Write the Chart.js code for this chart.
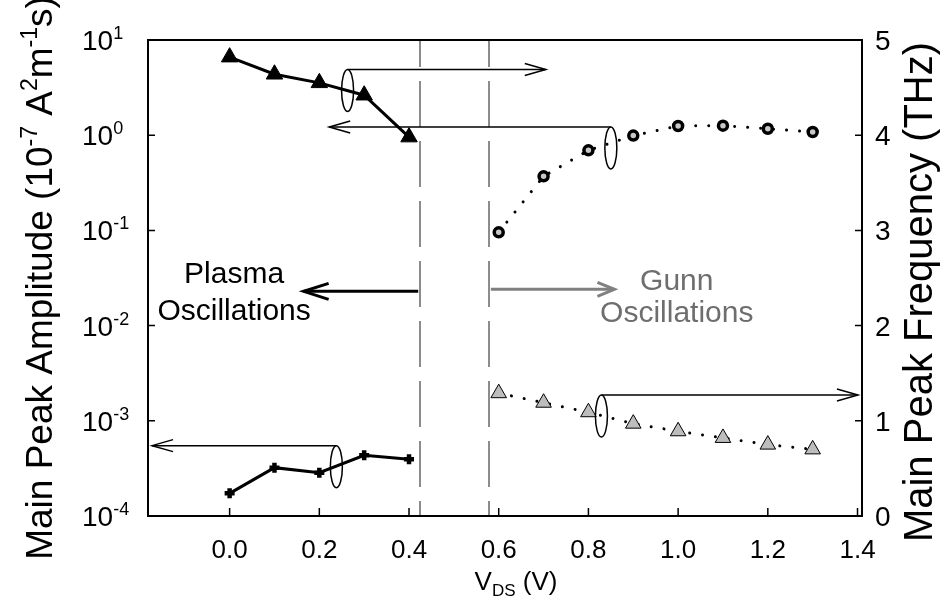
<!DOCTYPE html>
<html><head><meta charset="utf-8">
<script src="https://cdn.jsdelivr.net/npm/chart.js@4/dist/chart.umd.min.js"></script>
<style>html,body{margin:0;padding:0;background:#fff}#wrap{width:944px;height:607px}</style>
</head><body><div id="wrap"><canvas id="c" width="944" height="607"></canvas></div>
<script>
// ---- data ----
const vdsPlasma = [0.0, 0.1, 0.2, 0.3, 0.4];
const vdsGunn = [0.6, 0.7, 0.8, 0.9, 1.0, 1.1, 1.2, 1.3];
const plasmaFreq = [4.82, 4.64, 4.55, 4.42, 3.98];          // THz (right axis)
const plasmaAmp = [1.73e-4, 3.22e-4, 2.85e-4, 4.34e-4, 3.94e-4]; // left axis
const gunnAmp = [0.0955, 0.370, 0.693, 0.99, 1.25, 1.26, 1.17, 1.08]; // left axis
const gunnFreq = [1.29, 1.19, 1.09, 0.97, 0.89, 0.82, 0.75, 0.70]; // THz (right axis)
const xTicks = [0.0, 0.2, 0.4, 0.6, 0.8, 1.0, 1.2, 1.4];
const xTickLabels = ['0.0', '0.2', '0.4', '0.6', '0.8', '1.0', '1.2', '1.4'];
const leftTickExps = [1, 0, -1, -2, -3, -4];
const rightTicks = [0, 1, 2, 3, 4, 5];
const regionBounds = [0.425, 0.578];
const regionLabels = [['Plasma', 'Oscillations'], ['Gunn', 'Oscillations']];
const FONT = '"Liberation Sans", Arial, sans-serif';

const pts = (xs, ys) => xs.map((x, i) => ({x, y: ys[i]}));

// annotation anchors in data space (ellipse centre, arrow end)
const brackets = [
  {x: 0.263, y: 4.47, axis: 'yR', toX: 0.705, dir: 1},
  {x: 0.850, y: 0.735, axis: 'yL', toX: 0.222, dir: -1},
  {x: 0.238, y: 3.3e-4, axis: 'yL', toX: -0.173, dir: -1},
  {x: 0.829, y: 1.05, axis: 'yR', toX: 1.401, dir: 1}
];

function arrowHead(ctx, x, y, dir, len, half) {
  ctx.beginPath();
  ctx.moveTo(x - dir * len, y - half);
  ctx.lineTo(x, y);
  ctx.lineTo(x - dir * len, y + half);
  ctx.stroke();
}

function drawRich(ctx, parts, x, y, align) {
  let total = 0;
  parts.forEach(p => { ctx.font = p[1] + 'px ' + FONT; total += ctx.measureText(p[0]).width; });
  let cx = align === 'center' ? x - total / 2 : (align === 'right' ? x - total : x);
  parts.forEach(p => {
    ctx.font = p[1] + 'px ' + FONT;
    ctx.fillText(p[0], cx, y + (p[2] || 0));
    cx += ctx.measureText(p[0]).width;
  });
}

const decor = {
  id: 'decor',
  beforeDatasetsDraw(chart) {
    const {ctx, chartArea: a, scales} = chart;
    ctx.save();
    ctx.strokeStyle = '#8c8c8c';
    ctx.lineWidth = 2;
    ctx.setLineDash([46, 14]);
    ctx.lineDashOffset = 19;
    regionBounds.forEach(v => {
      const px = Math.round(scales.x.getPixelForValue(v));
      ctx.beginPath(); ctx.moveTo(px, a.top); ctx.lineTo(px, a.bottom); ctx.stroke();
    });
    ctx.restore();
  },
  afterDatasetsDraw(chart) {
    const {ctx, chartArea: a, scales} = chart;
    const sx = scales.x, yL = scales.yL, yR = scales.yR;
    ctx.save();
    ctx.strokeStyle = '#000'; ctx.lineWidth = 2; ctx.setLineDash([]);
    ctx.strokeRect(a.left, a.top, a.right - a.left, a.bottom - a.top);
    ctx.lineWidth = 1.5;
    ctx.beginPath();
    xTicks.forEach(v => { const p = sx.getPixelForValue(v); ctx.moveTo(p, a.bottom); ctx.lineTo(p, a.bottom - 8); });
    leftTickExps.forEach(e => { const p = yL.getPixelForValue(Math.pow(10, e)); ctx.moveTo(a.left, p); ctx.lineTo(a.left + 7, p); });
    rightTicks.forEach(v => { const p = yR.getPixelForValue(v); ctx.moveTo(a.right, p); ctx.lineTo(a.right - 7, p); });
    ctx.stroke();
    ctx.fillStyle = '#000';
    ctx.textBaseline = 'alphabetic';
    xTicks.forEach((v, i) => {
      ctx.font = '26px ' + FONT;
      ctx.textAlign = 'center';
      ctx.fillText(xTickLabels[i], sx.getPixelForValue(v), 558);
    });
    ctx.textAlign = 'left';
    leftTickExps.forEach(e => {
      const p = yL.getPixelForValue(Math.pow(10, e));
      drawRich(ctx, [['10', 28, 0], [String(e), 18, -11]], 82, p + 10, 'left');
    });
    rightTicks.forEach(v => {
      const p = yR.getPixelForValue(v);
      ctx.font = '28px ' + FONT;
      ctx.fillText(String(v), 875, p + 10);
    });
    drawRich(ctx, [['V', 26, 0], ['DS', 17, 6], [' (V)', 26, 0]], 516, 590, 'center');
    ctx.save();
    ctx.translate(52, 278); ctx.rotate(-Math.PI / 2);
    drawRich(ctx, [['Main Peak Amplitude (10', 37, 0], ['-7', 23, -15], [' A', 37, 0], ['2', 23, -15],
                   ['m', 37, 0], ['-1', 23, -15], ['s)', 37, 0]], 0, 0, 'center');
    ctx.restore();
    ctx.save();
    ctx.translate(932, 292); ctx.rotate(-Math.PI / 2);
    ctx.font = '40px ' + FONT; ctx.textAlign = 'center';
    ctx.fillText('Main Peak Frequency (THz)', 0, 0);
    ctx.restore();

    ctx.strokeStyle = '#000';
    brackets.forEach(b => {
      const cx = sx.getPixelForValue(b.x);
      const cy = scales[b.axis].getPixelForValue(b.y);
      ctx.lineWidth = 1.5;
      ctx.beginPath(); ctx.ellipse(cx, cy, 6, 21, 0, 0, Math.PI * 2); ctx.stroke();
      const top = cy - 21;
      const tx = sx.getPixelForValue(b.toX);
      ctx.beginPath(); ctx.moveTo(cx, top); ctx.lineTo(tx, top); ctx.stroke();
      arrowHead(ctx, tx, top, b.dir, 21, 6);
    });

    const yA = yR.getPixelForValue(2.36);
    const b0 = sx.getPixelForValue(regionBounds[0]);
    const b1 = sx.getPixelForValue(regionBounds[1]);
    ctx.lineWidth = 3; ctx.strokeStyle = '#000';
    const t0 = sx.getPixelForValue(0.165);
    ctx.beginPath(); ctx.moveTo(b0 - 2, yA); ctx.lineTo(t0, yA); ctx.stroke();
    arrowHead(ctx, t0, yA, -1, 25, 8);
    ctx.strokeStyle = '#808080';
    const t1 = sx.getPixelForValue(0.858);
    ctx.beginPath(); ctx.moveTo(b1 + 2, yA - 2); ctx.lineTo(t1, yA - 2); ctx.stroke();
    arrowHead(ctx, t1, yA - 2, 1, 17, 7);

    ctx.font = '30px ' + FONT; ctx.textAlign = 'center';
    ctx.fillStyle = '#000';
    const pcx = sx.getPixelForValue(0.01);
    ctx.fillText(regionLabels[0][0], pcx, 283);
    ctx.fillText(regionLabels[0][1], pcx, 320);
    ctx.fillStyle = '#6e6e6e';
    const gcx = sx.getPixelForValue(0.997);
    ctx.fillText(regionLabels[1][0], gcx, 290);
    ctx.fillText(regionLabels[1][1], gcx, 322);
    ctx.restore();
  }
};

new Chart(document.getElementById('c'), {
  type: 'line',
  data: {
    datasets: [
      {label: 'Plasma frequency', data: pts(vdsPlasma, plasmaFreq), yAxisID: 'yR',
       borderColor: '#000', borderWidth: 3, pointStyle: 'triangle', pointRadius: 9.5,
       pointBackgroundColor: '#000', pointBorderColor: '#000', pointBorderWidth: 1},
      {label: 'Plasma amplitude', data: pts(vdsPlasma, plasmaAmp), yAxisID: 'yL',
       borderColor: '#000', borderWidth: 3, pointStyle: 'cross', pointRadius: 5,
       pointBorderColor: '#000', pointBorderWidth: 4.5},
      {label: 'Gunn amplitude', data: pts(vdsGunn, gunnAmp), yAxisID: 'yL',
       borderColor: '#000', borderWidth: 3, borderDash: [0.01, 13], borderCapStyle: 'round',
       pointStyle: 'circle', pointRadius: 4.5, pointBackgroundColor: '#c8c8c8',
       pointBorderColor: '#000', pointBorderWidth: 3.5},
      {label: 'Gunn frequency', data: pts(vdsGunn, gunnFreq), yAxisID: 'yR',
       borderColor: '#000', borderWidth: 3, borderDash: [0.01, 13], borderCapStyle: 'round',
       pointStyle: 'triangle', pointRadius: 9, pointBackgroundColor: '#bdbdbd',
       pointBorderColor: '#000', pointBorderWidth: 1}
    ]
  },
  options: {
    responsive: false, animation: false, devicePixelRatio: 1,
    layout: {padding: {left: 148, right: 82, top: 40, bottom: 91}},
    plugins: {legend: {display: false}, tooltip: {enabled: false}},
    scales: {
      x: {type: 'linear', min: -0.182, max: 1.41, display: false},
      yL: {type: 'logarithmic', position: 'left', min: 1e-4, max: 10, display: false},
      yR: {type: 'linear', position: 'right', min: 0, max: 5, display: false}
    }
  },
  plugins: [decor]
});
</script></body></html>
